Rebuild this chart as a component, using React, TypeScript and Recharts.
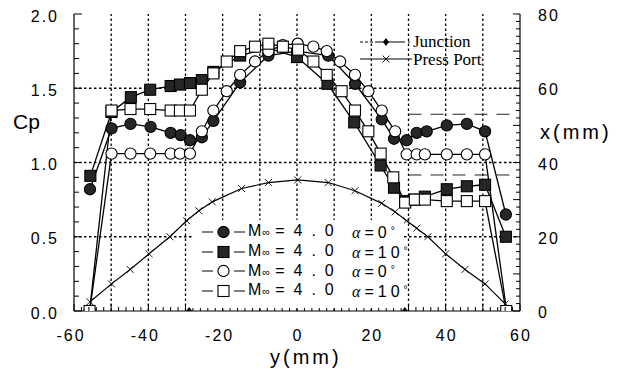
import React from 'react';
import { ComposedChart, Line, Scatter, XAxis, YAxis, ReferenceLine, Legend } from 'recharts';

const W = 626;
const H = 370;

// Cp, M=4.0 alpha=0 (filled circles)
const FC_Y = [-55.7, -49.9, -44.8, -39.4, -34.0, -31.3, -28.8, -25.6, -22.5, -15.3, -7.7, 0, 8.4, 15.6, 22.8, 26.1, 29.5, 32.2, 34.9, 40.3, 45.7, 50.6, 56.2];
const FC_CP = [0.82, 1.23, 1.26, 1.24, 1.2, 1.185, 1.15, 1.17, 1.28, 1.54, 1.72, 1.75, 1.72, 1.53, 1.29, 1.16, 1.15, 1.2, 1.21, 1.25, 1.26, 1.21, 0.65];

// Cp, M=4.0 alpha=10 (filled squares)
const FS_Y = [-55.6, -49.9, -44.7, -39.5, -34.0, -31.5, -28.8, -25.6, -22.5, -15.3, -7.7, 0, 8.2, 15.4, 22.5, 26.1, 29.1, 31.7, 34.4, 40.3, 45.7, 50.6, 56.2];
const FS_CP = [0.91, 1.34, 1.44, 1.49, 1.515, 1.525, 1.535, 1.555, 1.61, 1.72, 1.77, 1.71, 1.53, 1.27, 0.98, 0.83, 0.74, 0.75, 0.77, 0.82, 0.84, 0.85, 0.5];

// Cp, M=4.0 alpha=0 (open circles)
const OC_Y = [-55.8, -49.9, -44.8, -39.5, -34.0, -31.5, -28.8, -25.6, -22.5, -18.9, -15.3, -11.3, -7.7, -3.8, 0.2, 4.4, 8.0, 11.6, 15.6, 19.2, 22.8, 26.4, 29.5, 32.2, 34.4, 40.3, 45.7, 50.6, 56.4];
const OC_CP = [0, 1.06, 1.06, 1.06, 1.06, 1.06, 1.06, 1.21, 1.35, 1.48, 1.59, 1.68, 1.75, 1.79, 1.8, 1.78, 1.75, 1.68, 1.59, 1.48, 1.35, 1.21, 1.055, 1.055, 1.055, 1.055, 1.055, 1.055, 0];

// Cp, M=4.0 alpha=10 (open squares)
const OS_Y = [-55.8, -49.9, -44.8, -39.5, -34.0, -31.5, -28.8, -25.6, -22.5, -18.9, -15.3, -11.3, -7.7, -3.8, 0.3, 4.4, 8.0, 12.0, 15.6, 19.2, 22.5, 25.9, 29.1, 31.7, 34.4, 40.3, 45.7, 50.6, 56.3];
const OS_CP = [0, 1.35, 1.36, 1.36, 1.35, 1.35, 1.35, 1.49, 1.6, 1.68, 1.75, 1.78, 1.8, 1.78, 1.76, 1.68, 1.59, 1.48, 1.35, 1.21, 1.06, 0.9, 0.73, 0.75, 0.75, 0.74, 0.74, 0.74, 0];

// press port position x(mm), right axis
const PP_Y = [-55.7, -49.9, -44.9, -39.8, -34.2, -29.7, -26.4, -22.8, -14.9, -7.7, 0.2, 8.4, 15.6, 22.8, 26.4, 29.5, 32.2, 35.2, 40.0, 45.2, 50.6, 56.0];
const PP_X = [2.5, 7.3, 11.2, 15.4, 20.0, 24.3, 27.0, 29.4, 33.0, 34.6, 35.3, 34.6, 32.4, 29.0, 26.7, 24.3, 22.3, 20.0, 15.4, 11.2, 7.3, 1.9];

// junction marks on the axis
const JUNC_Y = [-29.0, 29.0, 56.8];
const JUNC_CP = [0, 0, 0];

// dashed junction lines (Cp level, y range)
const JLINE_CP = [1.325, 0.916];
const JLINE_Y = [30, 58];

const GRID_X = [-50, -40, -30, -20, -10, 0, 10, 20, 30, 40, 50];
const GRID_CP = [0.5, 1.0, 1.5];

const MACH = '4.0';
const ALPHA = ['0', '10', '0', '10'];

const X_TICKS = Array.from({ length: 61 }, (_, i) => -60 + i * 2);
const CP_TICKS = Array.from({ length: 21 }, (_, i) => i / 10);
const XMM_TICKS = Array.from({ length: 41 }, (_, i) => i * 2);

const pts = (ys: number[], vs: number[], key = 'cp') => ys.map((y, i) => ({ y, [key]: vs[i] }));

const fcData = pts(FC_Y, FC_CP);
const fsData = pts(FS_Y, FS_CP);
const ocData = pts(OC_Y, OC_CP);
const osData = pts(OS_Y, OS_CP);
const ppData = pts(PP_Y, PP_X, 'xmm');
const juncData = pts(JUNC_Y, JUNC_CP);

const SERIES = [
  { name: 'fc', data: fcData, shape: 'circle', filled: true },
  { name: 'fs', data: fsData, shape: 'square', filled: true },
  { name: 'oc', data: ocData, shape: 'circle', filled: false },
  { name: 'os', data: osData, shape: 'square', filled: false },
];

const SANS = '"Liberation Sans", Arial, sans-serif';
const SERIF = '"Liberation Serif", serif';
const TICK_FONT: React.CSSProperties = { fontFamily: SANS, fontSize: 16, letterSpacing: 2, fill: '#000' };
const TITLE_FONT: React.CSSProperties = { fontFamily: SANS, fontSize: 20, letterSpacing: 3, fill: '#000' };

const Marker = ({ cx, cy, shape, filled }: any) => {
  const fill = filled ? '#262626' : '#fff';
  if (shape === 'circle') return <circle cx={cx} cy={cy} r={5.6} fill={fill} stroke="#000" strokeWidth={1.1} />;
  if (shape === 'square') return <rect x={cx - 5.5} y={cy - 5.5} width={11} height={11} fill={fill} stroke="#000" strokeWidth={1.1} />;
  if (shape === 'x')
    return (
      <g stroke="#000" strokeWidth={0.9}>
        <line x1={cx - 3.5} y1={cy - 3.5} x2={cx + 3.5} y2={cy + 3.5} />
        <line x1={cx - 3.5} y1={cy + 3.5} x2={cx + 3.5} y2={cy - 3.5} />
      </g>
    );
  return <path d={`M${cx},${cy - 4}L${cx + 3},${cy}L${cx},${cy + 4}L${cx - 3},${cy}Z`} fill="#000" />;
};

const dotFor = (name: string, shape: string, filled: boolean) => (p: any) => (
  <Marker key={`${name}-${p.index}`} cx={p.cx} cy={p.cy} shape={shape} filled={filled} />
);

const BottomTick = ({ x, y, payload }: any) => {
  const v = payload.value;
  const major = v % 10 === 0;
  return (
    <g>
      <line x1={x} x2={x} y1={y} y2={y - (major ? 7 : 4)} stroke="#000" />
      {v % 20 === 0 && (
        <text x={x + (v < 0 ? -3 : 1)} y={y + 30} textAnchor="middle" style={TICK_FONT}>{v}</text>
      )}
    </g>
  );
};

const TopTick = ({ x, y, payload }: any) => {
  const major = payload.value % 10 === 0;
  return <line x1={x} x2={x} y1={y} y2={y + (major ? 7 : 4)} stroke="#000" />;
};

const LeftTick = ({ x, y, payload }: any) => {
  const v = payload.value;
  const lab = Math.abs(v * 2 - Math.round(v * 2)) < 1e-6;
  return (
    <g>
      <line x1={x} x2={x + (lab ? 8 : 5)} y1={y} y2={y} stroke="#000" />
      {lab && (
        <text x={x - 15} y={y + 7.5} textAnchor="end" style={TICK_FONT}>{v.toFixed(1)}</text>
      )}
    </g>
  );
};

const RightTick = ({ x, y, payload }: any) => {
  const v = payload.value;
  const major = v % 10 === 0;
  return (
    <g>
      <line x1={x} x2={x - (major ? 7 : 4)} y1={y} y2={y} stroke="#000" />
      {v % 20 === 0 && (
        <text x={x + 18} y={y + 7} textAnchor="start" style={TICK_FONT}>{v}</text>
      )}
    </g>
  );
};

const LegendMark = ({ shape, filled, w }: any) => (
  <svg width={w} height={14} style={{ display: 'block', overflow: 'visible', flex: 'none' }}>
    <line x1={0} x2={w} y1={7} y2={7} stroke="#000" strokeWidth={1.1} strokeDasharray={shape === 'diamond' ? '3 2 3 2 3 2 30' : undefined} />
    {(shape === 'circle' || shape === 'square') && <line x1={11} x2={32} y1={7} y2={7} stroke="#fff" strokeWidth={3} />}
    <Marker cx={w / 2} cy={7} shape={shape} filled={filled} />
  </svg>
);

const renderLegend = ({ payload }: any) => {
  const items = payload || [];
  const cp = items.filter((e: any) => SERIES.some((s) => s.name === e.value));
  const other = items.filter((e: any) => e.value === 'Junction' || e.value === 'Press Port');
  return (
    <div style={{ position: 'relative', width: W, height: H }}>
      <div style={{ position: 'absolute', left: 192, top: 220, width: 212, height: 88, background: '#fff', paddingTop: 2, boxSizing: 'border-box' }}>
        {cp.map((e: any) => {
          const i = SERIES.findIndex((s) => s.name === e.value);
          const s = SERIES[i];
          return (
            <div key={e.value} style={{ height: 19.7, display: 'flex', alignItems: 'center', paddingLeft: 10, lineHeight: '16px' }}>
              <LegendMark shape={s.shape} filled={s.filled} w={43} />
              <span style={{ fontFamily: SANS, fontSize: 16, lineHeight: '16px', marginLeft: 3, whiteSpace: 'nowrap', width: 104, flex: 'none', letterSpacing: 9 }}>
                <span style={{ letterSpacing: 1 }}>M</span>
                <span style={{ fontSize: 11, letterSpacing: 5 }}>∞</span>={MACH}
              </span>
              <span style={{ fontFamily: SANS, fontSize: 16, lineHeight: '16px', whiteSpace: 'nowrap', letterSpacing: 4 }}>
                <i style={{ fontFamily: SERIF, fontSize: 16 }}>α</i>={ALPHA[i]}
                <span style={{ fontSize: 10, verticalAlign: 4, letterSpacing: 0 }}>°</span>
              </span>
            </div>
          );
        })}
      </div>
      <div style={{ position: 'absolute', left: 360, top: 33 }}>
        {other.map((e: any) => (
          <div key={e.value} style={{ height: 17.5, display: 'flex', alignItems: 'center', lineHeight: '17px' }}>
            <LegendMark shape={e.value === 'Junction' ? 'diamond' : 'x'} w={52} />
            <span style={{ fontFamily: SERIF, fontSize: 17, marginLeft: 1, whiteSpace: 'nowrap' }}>{e.value}</span>
          </div>
        ))}
      </div>
    </div>
  );
};

export default function App() {
  return (
    <div style={{ position: 'absolute', left: 0, top: 0, width: W, height: H, background: '#fff' }}>
      <ComposedChart width={W} height={H} margin={{ top: 14, right: 0, bottom: 0, left: 0 }}>
        <XAxis
          xAxisId="b"
          type="number"
          dataKey="y"
          domain={[-60, 60]}
          ticks={X_TICKS}
          interval={0}
          allowDataOverflow
          height={59}
          tickSize={0}
          tickMargin={0}
          tickLine={false}
          tick={<BottomTick />}
          axisLine={{ stroke: '#000', strokeWidth: 1.2 }}
          label={() => <text x={270} y={364} style={TITLE_FONT}>y(mm)</text>}
        />
        <XAxis
          xAxisId="t"
          orientation="top"
          type="number"
          dataKey="y"
          domain={[-60, 60]}
          ticks={X_TICKS}
          interval={0}
          allowDataOverflow
          height={0}
          tickSize={0}
          tickMargin={0}
          tickLine={false}
          tick={<TopTick />}
          axisLine={{ stroke: '#000', strokeWidth: 1.2 }}
        />
        <YAxis
          yAxisId="cp"
          type="number"
          domain={[0, 2]}
          ticks={CP_TICKS}
          interval={0}
          allowDataOverflow
          width={74}
          tickSize={0}
          tickMargin={0}
          tickLine={false}
          tick={<LeftTick />}
          axisLine={{ stroke: '#000', strokeWidth: 1.2 }}
          label={() => <text x={13} y={129} style={{ ...TITLE_FONT, fontSize: 21, letterSpacing: 0 }}>Cp</text>}
        />
        <YAxis
          yAxisId="x"
          orientation="right"
          type="number"
          domain={[0, 80]}
          ticks={XMM_TICKS}
          interval={0}
          allowDataOverflow
          width={106}
          tickSize={0}
          tickMargin={0}
          tickLine={false}
          tick={<RightTick />}
          axisLine={{ stroke: '#000', strokeWidth: 1.2 }}
          label={() => <text x={540} y={139} style={TITLE_FONT}>x(mm)</text>}
        />

        {GRID_X.map((v) => (
          <ReferenceLine key={`gx${v}`} xAxisId="b" yAxisId="cp" x={v} stroke="#000" strokeWidth={1.3} strokeDasharray="2.5 2.5" />
        ))}
        {GRID_CP.map((v) => (
          <ReferenceLine key={`gy${v}`} xAxisId="b" yAxisId="cp" y={v} stroke="#000" strokeWidth={1.3} strokeDasharray="2.5 2.5" />
        ))}
        {JLINE_CP.map((v) => (
          <ReferenceLine
            key={`jl${v}`}
            xAxisId="b"
            yAxisId="cp"
            ifOverflow="visible"
            segment={[{ x: JLINE_Y[0], y: v }, { x: JLINE_Y[1], y: v }]}
            stroke="#222"
            strokeWidth={1}
            strokeDasharray="13 9"
          />
        ))}

        <Line
          xAxisId="b"
          yAxisId="x"
          data={ppData}
          dataKey="xmm"
          name="Press Port"
          type="linear"
          stroke="#000"
          strokeWidth={1.2}
          dot={dotFor('pp', 'x', false)}
          activeDot={false}
          isAnimationActive={false}
        />
        <Scatter
          xAxisId="b"
          yAxisId="cp"
          data={juncData}
          dataKey="cp"
          name="Junction"
          shape={(p: any) => <Marker cx={p.cx} cy={p.cy} shape="diamond" />}
          isAnimationActive={false}
        />
        {SERIES.map((s) => (
          <Line
            key={s.name}
            xAxisId="b"
            yAxisId="cp"
            data={s.data}
            dataKey="cp"
            name={s.name}
            type="linear"
            stroke="#000"
            strokeWidth={1.3}
            dot={dotFor(s.name, s.shape, s.filled)}
            activeDot={false}
            isAnimationActive={false}
          />
        ))}

        <Legend
          layout="vertical"
          align="center"
          verticalAlign="middle"
          content={renderLegend}
          wrapperStyle={{ left: 0, top: 0, width: W, height: H, pointerEvents: 'none' }}
        />
      </ComposedChart>
    </div>
  );
}
